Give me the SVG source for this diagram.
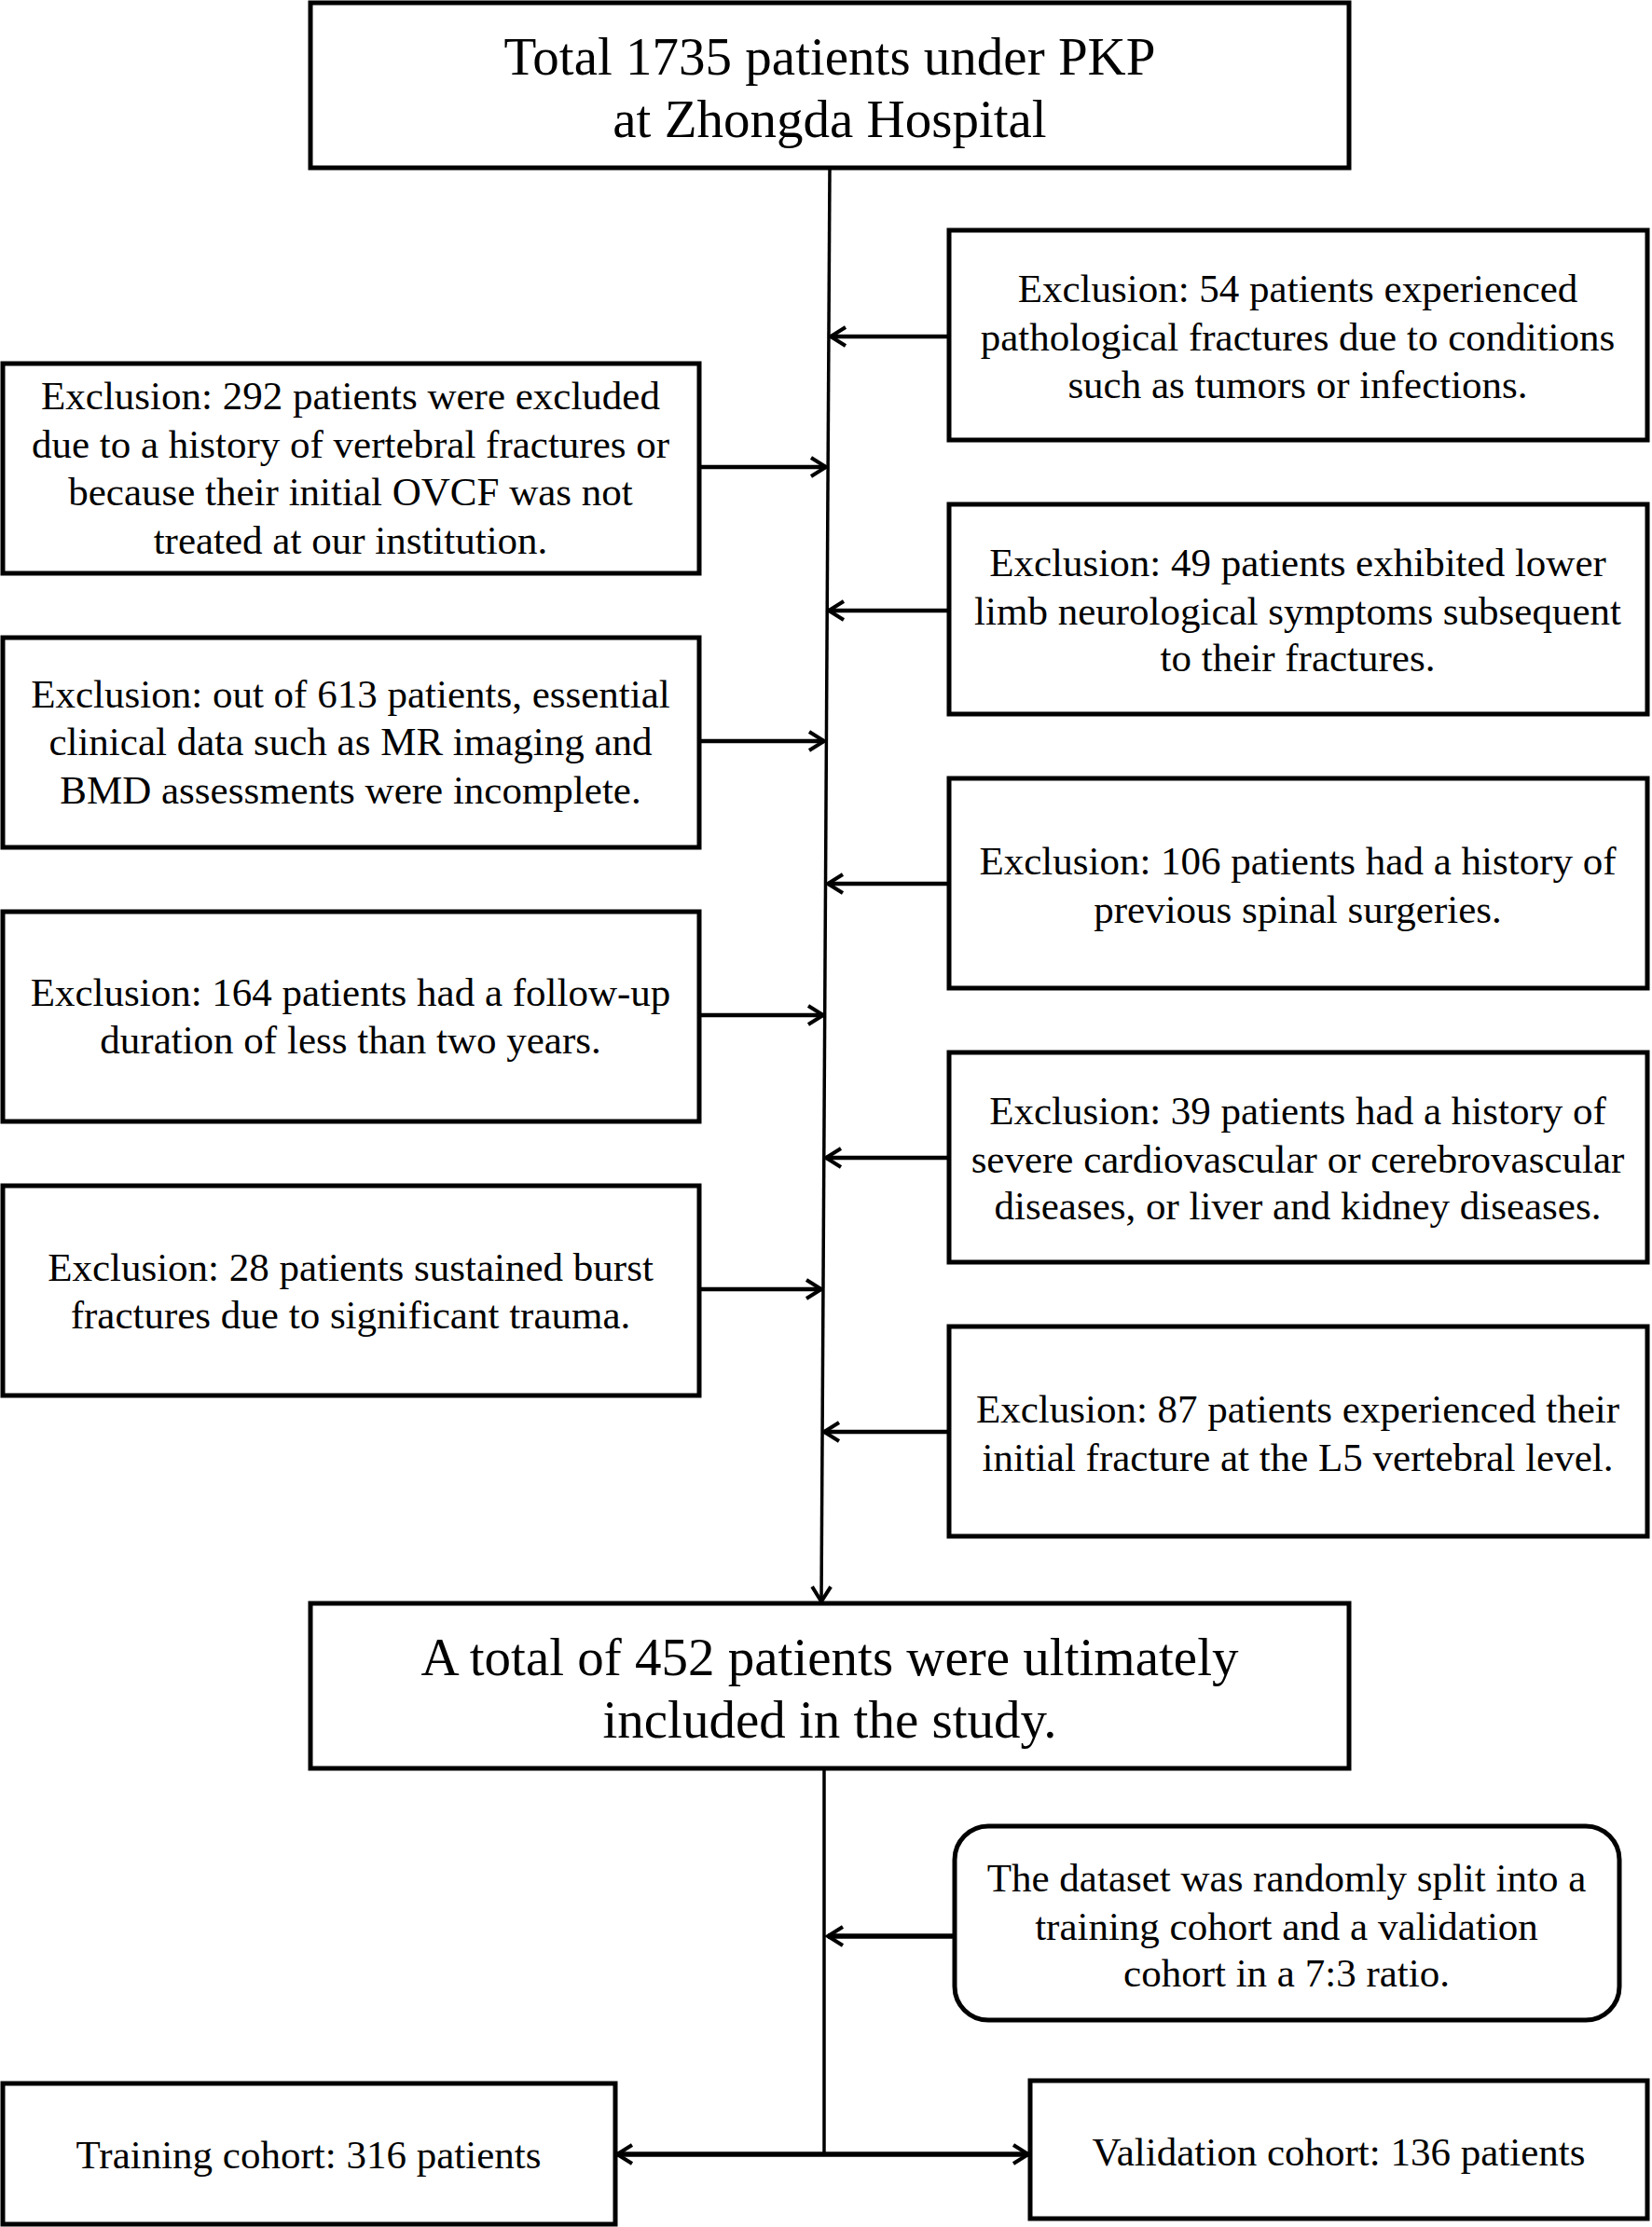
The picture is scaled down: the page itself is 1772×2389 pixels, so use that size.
<svg xmlns="http://www.w3.org/2000/svg" width="1772" height="2389" viewBox="0 0 1772 2389">
<style>
.box{fill:#fff;stroke:#000;stroke-width:5}
.t{font-family:"Liberation Serif","Times New Roman",serif;font-size:43px;fill:#000;text-anchor:middle}
.big{font-size:57px}
.ln{stroke:#000;stroke-width:4.5;fill:none}
.vl{stroke:#000;stroke-width:3.5;fill:none}
.thick{stroke-width:5.5}
</style>
<defs>
<marker id="arr" viewBox="0 0 22 26" refX="19" refY="13" markerWidth="22" markerHeight="26" markerUnits="userSpaceOnUse" orient="auto-start-reverse">
<path d="M3,3 L19,13 L3,23" fill="none" stroke="#000" stroke-width="4"/>
</marker>
</defs>
<rect width="1772" height="2389" fill="#fff"/>
<g id="connectors">
<line class="vl" x1="890" y1="180" x2="881" y2="1718" marker-end="url(#arr)"/>
<line class="ln" x1="1018" y1="361" x2="891" y2="361" marker-end="url(#arr)"/>
<line class="ln" x1="750" y1="501" x2="886" y2="501" marker-end="url(#arr)"/>
<line class="ln" x1="1018" y1="655" x2="889" y2="655" marker-end="url(#arr)"/>
<line class="ln" x1="750" y1="795" x2="884" y2="795" marker-end="url(#arr)"/>
<line class="ln" x1="1018" y1="948" x2="888" y2="948" marker-end="url(#arr)"/>
<line class="ln" x1="750" y1="1089" x2="883" y2="1089" marker-end="url(#arr)"/>
<line class="ln" x1="1018" y1="1242" x2="886" y2="1242" marker-end="url(#arr)"/>
<line class="ln" x1="750" y1="1383" x2="881" y2="1383" marker-end="url(#arr)"/>
<line class="ln" x1="1018" y1="1536" x2="884" y2="1536" marker-end="url(#arr)"/>
<line class="vl" x1="884" y1="1897" x2="884" y2="2311"/>
<line class="ln thick" x1="1024" y1="2077" x2="888" y2="2077" marker-end="url(#arr)"/>
<line class="ln thick" x1="662" y1="2311" x2="1103" y2="2311" marker-start="url(#arr)" marker-end="url(#arr)"/>
</g>
<g id="top">
<rect class="box" x="333" y="3" width="1114" height="177"/>
<text class="t big" x="890" y="80">Total 1735 patients under PKP</text>
<text class="t big" x="890" y="147">at Zhongda Hospital</text>
</g>
<g id="ex292">
<rect class="box" x="3" y="390" width="747" height="225"/>
<text class="t" x="376" y="439">Exclusion: 292 patients were excluded</text>
<text class="t" x="376" y="491">due to a history of vertebral fractures or</text>
<text class="t" x="376" y="542">because their initial OVCF was not</text>
<text class="t" x="376" y="594">treated at our institution.</text>
</g>
<g id="ex613">
<rect class="box" x="3" y="684" width="747" height="225"/>
<text class="t" x="376" y="759">Exclusion: out of 613 patients, essential</text>
<text class="t" x="376" y="810">clinical data such as MR imaging and</text>
<text class="t" x="376" y="862">BMD assessments were incomplete.</text>
</g>
<g id="ex164">
<rect class="box" x="3" y="978" width="747" height="225"/>
<text class="t" x="376" y="1079">Exclusion: 164 patients had a follow-up</text>
<text class="t" x="376" y="1130">duration of less than two years.</text>
</g>
<g id="ex28">
<rect class="box" x="3" y="1272" width="747" height="225"/>
<text class="t" x="376" y="1374">Exclusion: 28 patients sustained burst</text>
<text class="t" x="376" y="1425">fractures due to significant trauma.</text>
</g>
<g id="ex54">
<rect class="box" x="1018" y="247" width="749" height="225"/>
<text class="t" x="1392" y="324">Exclusion: 54 patients experienced</text>
<text class="t" x="1392" y="376">pathological fractures due to conditions</text>
<text class="t" x="1392" y="427">such as tumors or infections.</text>
</g>
<g id="ex49">
<rect class="box" x="1018" y="541" width="749" height="225"/>
<text class="t" x="1392" y="618">Exclusion: 49 patients exhibited lower</text>
<text class="t" x="1392" y="670">limb neurological symptoms subsequent</text>
<text class="t" x="1392" y="720">to their fractures.</text>
</g>
<g id="ex106">
<rect class="box" x="1018" y="835" width="749" height="225"/>
<text class="t" x="1392" y="938">Exclusion: 106 patients had a history of</text>
<text class="t" x="1392" y="990">previous spinal surgeries.</text>
</g>
<g id="ex39">
<rect class="box" x="1018" y="1129" width="749" height="225"/>
<text class="t" x="1392" y="1206">Exclusion: 39 patients had a history of</text>
<text class="t" x="1392" y="1258">severe cardiovascular or cerebrovascular</text>
<text class="t" x="1392" y="1308">diseases, or liver and kidney diseases.</text>
</g>
<g id="ex87">
<rect class="box" x="1018" y="1423" width="749" height="225"/>
<text class="t" x="1392" y="1526">Exclusion: 87 patients experienced their</text>
<text class="t" x="1392" y="1578">initial fracture at the L5 vertebral level.</text>
</g>
<g id="included">
<rect class="box" x="333" y="1720" width="1114" height="177"/>
<text class="t big" x="890" y="1797">A total of 452 patients were ultimately</text>
<text class="t big" x="890" y="1864">included in the study.</text>
</g>
<g id="split">
<rect class="box" x="1024" y="1959" width="713" height="208" rx="36" ry="36"/>
<text class="t" x="1380" y="2029">The dataset was randomly split into a</text>
<text class="t" x="1380" y="2081">training cohort and a validation</text>
<text class="t" x="1380" y="2131">cohort in a 7:3 ratio.</text>
</g>
<g id="training">
<rect class="box" x="3" y="2235" width="657" height="151"/>
<text class="t" x="331" y="2326">Training cohort: 316 patients</text>
</g>
<g id="validation">
<rect class="box" x="1105" y="2232" width="662" height="148"/>
<text class="t" x="1436" y="2323">Validation cohort: 136 patients</text>
</g>
</svg>
